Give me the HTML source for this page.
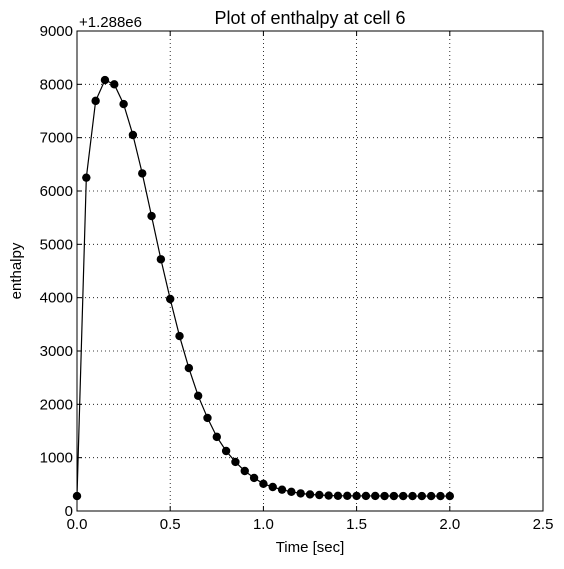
<!DOCTYPE html>
<html><head><meta charset="utf-8"><style>
body{margin:0;background:#fff;}
svg text{font-family:"Liberation Sans",sans-serif;}
</style></head><body>
<svg id="chart" width="564" height="564" xmlns="http://www.w3.org/2000/svg"></svg>
<script>
const times=[0,0.05,0.1,0.15,0.2,0.25,0.3,0.35,0.4,0.45,0.5,0.55,0.6,0.65,0.7,0.75,0.8,0.85,0.9,0.95,1.0,1.05,1.1,1.15,1.2,1.25,1.3,1.35,1.4,1.45,1.5,1.55,1.6,1.65,1.7,1.75,1.8,1.85,1.9,1.95,2.0];
const enthalpy=[280,6250,7690,8080,8000,7630,7050,6330,5530,4720,3975,3280,2680,2160,1745,1390,1125,920,750,620,510,450,400,360,330,310,300,290,285,285,283,282,282,281,281,281,280,280,280,280,280];
const xTicks=[0,0.5,1.0,1.5,2.0,2.5];
const xTickLabels=["0.0","0.5","1.0","1.5","2.0","2.5"];
const yTicks=[0,1000,2000,3000,4000,5000,6000,7000,8000,9000];
const yTickLabels=["0","1000","2000","3000","4000","5000","6000","7000","8000","9000"];
const L=77,R=543,T=31,B=511;
const xs=v=>L+(v-0)/(2.5-0)*(R-L);
const ys=v=>B-(v-0)/(9000-0)*(B-T);
const svg=document.getElementById('chart');
const NS="http://www.w3.org/2000/svg";
function mk(tag,attrs,parent){const e=document.createElementNS(NS,tag);for(const k in attrs)e.setAttribute(k,attrs[k]);(parent||svg).appendChild(e);return e;}
// grid
xTicks.forEach((t,i)=>{
 const g=mk('line',{x1:xs(t),x2:xs(t),y1:T,y2:B,stroke:'#000','stroke-dasharray':'1,3','stroke-width':0.8});
 
 
 mk('line',{x1:xs(t),x2:xs(t),y1:B,y2:B-5,stroke:'#000'});
 mk('line',{x1:xs(t),x2:xs(t),y1:T,y2:T+5,stroke:'#000'});
 const tx=mk('text',{x:xs(t),y:B+18,'font-size':15,'text-anchor':'middle'});
 tx.textContent=xTickLabels[i];
 
 
});
yTicks.forEach((t,i)=>{
 const g=mk('line',{x1:L,x2:R,y1:ys(t),y2:ys(t),stroke:'#000','stroke-dasharray':'1,3','stroke-width':0.8});
 
 
 mk('line',{x1:L,x2:L+5,y1:ys(t),y2:ys(t),stroke:'#000'});
 mk('line',{x1:R,x2:R-5,y1:ys(t),y2:ys(t),stroke:'#000'});
 const tx=mk('text',{x:L-4,y:ys(t)+5,'font-size':15,'text-anchor':'end'});
 tx.textContent=yTickLabels[i];
 
 
});
const frame=mk('rect',{x:L,y:T,width:R-L,height:B-T,fill:'none',stroke:'#000','stroke-width':1});


// line
const pts=times.map((t,i)=>xs(t)+','+ys(enthalpy[i])).join(' ');
const pl=mk('polyline',{points:pts,fill:'none',stroke:'#000','stroke-width':1.2});


times.forEach((t,i)=>{
 const c=mk('circle',{cx:xs(t),cy:ys(enthalpy[i]),r:4.2,fill:'#000'});
 
 
});
// labels
const off=mk('text',{x:L+2,y:T-4,'font-size':15});
off.textContent='+1.288e6';


const title=mk('text',{x:(L+R)/2,y:T-7,'font-size':18,'text-anchor':'middle'});
title.textContent='Plot of enthalpy at cell 6';


const xl=mk('text',{x:(L+R)/2,y:552,'font-size':15,'text-anchor':'middle'});
xl.textContent='Time [sec]';


const yl=mk('text',{x:21,y:(T+B)/2,'font-size':15,'text-anchor':'middle',transform:'rotate(-90 21 '+((T+B)/2)+')'});
yl.textContent='enthalpy';


</script>
</body></html>
